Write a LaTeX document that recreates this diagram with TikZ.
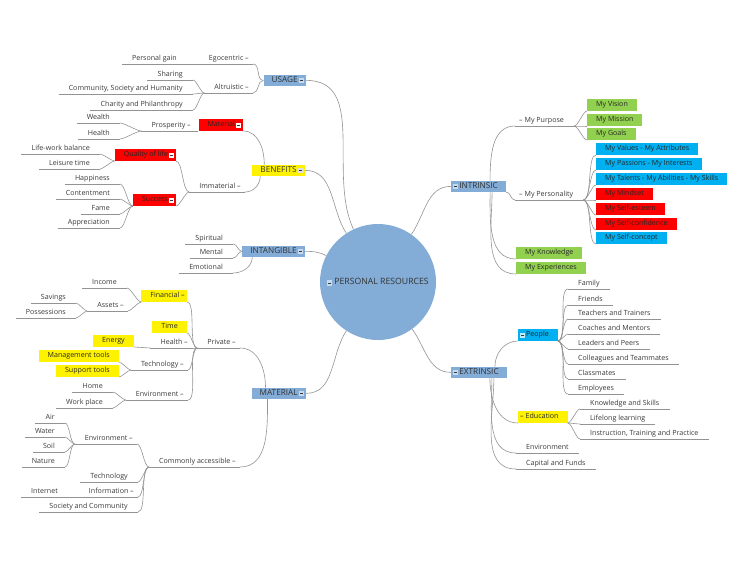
\documentclass[tikz,border=0pt]{standalone}
\usepackage{fontspec}
\setmainfont{Open Sans}
\usetikzlibrary{positioning}

\definecolor{topicblue}{HTML}{83ACD7}
\definecolor{skyblue}{HTML}{00B0F0}
\definecolor{leafgreen}{HTML}{92D050}
\definecolor{linegray}{HTML}{939393}
\definecolor{textgray}{HTML}{383838}

\newcommand\leaffont{\fontsize{7.1}{8.4}\selectfont}
\newcommand\topicfont{\fontsize{8.2}{9.8}\selectfont}
\newcommand\hubfont{\fontsize{8.7}{10}\selectfont}
\newcommand\foldmark[1][white!55!topicblue]{{\setlength\fboxsep{0.8pt}\colorbox{#1}{\rule{0pt}{3.5pt}\textcolor{textgray}{\rule[1.5pt]{3.2pt}{0.6pt}}}}}

\tikzset{
  link/.style={draw=linegray, line width=0.6pt},
  lfan/.style={out=180, in=0, looseness=0.5},
  rfan/.style={out=0, in=180, looseness=0.5},
  leaf/.style={font=\leaffont, text=textgray, inner xsep=10pt, inner ysep=2pt,
    text height=5.2pt, text depth=1.5pt,
    append after command={(\tikzlastnode.south west) edge[link] (\tikzlastnode.south east)}},
  lleaf/.style={leaf, anchor=south east},
  rleaf/.style={leaf, anchor=south west},
  lbranch/.style={leaf, anchor=south east, inner xsep=4pt, execute at begin node={\hspace*{6pt}}},
  rbranch/.style={leaf, anchor=south west, inner xsep=4pt, execute at end node={\hspace*{6pt}}},
  box/.style={font=\leaffont, text=black!85, inner ysep=2.5pt, text height=5.2pt, text depth=1.5pt},
  lbox/.style={box, anchor=south east, inner xsep=2pt, execute at begin node={\hspace*{7pt}}},
  rbox/.style={box, anchor=south west, inner xsep=2pt, execute at end node={\hspace*{7pt}}},
  lcard/.style={box, anchor=south east, inner xsep=9pt},
  rcard/.style={box, anchor=south west, inner xsep=9pt},
  topic/.style={font=\topicfont, text=black!80, fill=topicblue, inner xsep=2pt, inner ysep=1.6pt,
    text height=6pt, text depth=1.7pt},
  ltopic/.style={topic, anchor=south east, execute at begin node={\hspace*{6pt}}},
  rtopic/.style={topic, anchor=south west, execute at end node={\hspace*{6pt}}},
  hub/.style={circle, fill=topicblue, minimum size=116pt, inner sep=0pt, font=\hubfont, text=black!80}
}

\begin{document}
\begin{tikzpicture}[x=1pt,y=1pt]
\useasboundingbox (0,0) rectangle (750,-563);

% The hub and the main topics
\node[hub] (hub) at (378,-282) {\foldmark\ PERSONAL RESOURCES};
\node[ltopic] (usage) at (306,-86) {USAGE\,\foldmark};
\node[ltopic,fill=yellow] (benefits) at (305,-176) {BENEFITS\,\foldmark[white!75!gray]};
\node[ltopic] (intang) at (305,-257) {INTANGIBLE\,\foldmark};
\node[ltopic] (matr) at (306,-399) {MATERIAL\,\foldmark};
\node[rtopic] (intrin) at (451,-192) {\foldmark\,INTRINSIC};
\node[rtopic] (extrin) at (451,-378) {\foldmark\,EXTRINSIC};

\draw[link] (usage.east) to[out=0,in=115] (hub.115);
\draw[link] (benefits.east) to[out=0,in=123] (hub.123);
\draw[link] (intang.east) to[out=0,in=153] (hub.153);
\draw[link] (matr.east) to[out=0,in=237] (hub.237);
\draw[link] (intrin.west) to[out=180,in=55] (hub.55);
\draw[link] (extrin.west) to[out=180,in=306] (hub.306);

% Usage
\node[lbranch] (ego) at (253,-64) {Egocentric~–};
\node[lleaf] (gain) at (187,-64) {Personal gain};
\node[lbranch] (altru) at (253,-93) {Altruistic~–};
\node[lleaf] (share) at (193,-80) {Sharing};
\node[lleaf] (commu) at (193,-94) {Community, Society and Humanity};
\node[lleaf] (charity) at (193,-110) {Charity and Philanthropy};

\draw[link] (usage.west) to[out=180,in=0] (ego.south east);
\draw[link] (usage.west) to[out=180,in=0] (altru.south east);
\draw[link] (ego.south west) -- (gain.south east);
\foreach \kid in {share,commu,charity}
  \draw[link] (altru.south west) to[lfan] (\kid.south east);

% Benefits
\node[lbox,fill=red] (matl) at (243,-131) {Material\,\foldmark[white]};
\node[lbranch] (prosp) at (195,-131) {Prosperity~–};
\node[lleaf] (wealth) at (120,-123) {Wealth};
\node[lleaf] (health) at (120,-139) {Health};
\node[lbranch] (immat) at (245,-192) {Immaterial~–};
\node[lbox,fill=red] (qol) at (176,-161) {Quality of life\,\foldmark[white]};
\node[lleaf] (balance) at (100,-154) {Life-work balance};
\node[lleaf] (leisure) at (100,-169) {Leisure time};
\node[lbox,fill=red] (success) at (176,-206) {Success\,\foldmark[white]};
\node[lleaf] (happy) at (120,-184) {Happiness};
\node[lleaf] (content) at (120,-199) {Contentment};
\node[lleaf] (fame) at (120,-214) {Fame};
\node[lleaf] (apprec) at (120,-228) {Appreciation};

\draw[link] ([xshift=12pt]benefits.north west) to[out=90,in=0] (matl.south east);
\draw[link] ([xshift=8pt]benefits.south west) to[out=-90,in=0] (immat.south east);
\draw[link] (matl.south west) -- (prosp.south east);
\foreach \kid in {wealth,health}
  \draw[link] (prosp.south west) to[lfan] (\kid.south east);
\foreach \kid in {qol,success}
  \draw[link] (immat.south west) to[lfan] (\kid.south east);
\foreach \kid in {balance,leisure}
  \draw[link] (qol.south west) to[lfan] (\kid.south east);
\foreach \kid in {happy,content,fame,apprec}
  \draw[link] (success.south west) to[lfan] (\kid.south east);

% Intangible
\node[lleaf] (spirit) at (233,-244) {Spiritual};
\node[lleaf] (mental) at (233,-258) {Mental};
\node[lleaf] (emot) at (233,-273) {Emotional};

\draw[link] (intang.west) to[out=180,in=0] (spirit.south east);
\draw[link] (intang.west) to[out=180,in=0] (mental.south east);
\draw[link] ([xshift=10pt]intang.south west) to[out=-90,in=0] (emot.south east);

% Material, private side
\node[lbranch] (private) at (240,-348) {Private~–};
\node[lbox,fill=yellow] (financ) at (187,-302) {Financial~–};
\node[lleaf] (income) at (127,-288) {Income};
\node[lbranch] (assets) at (128,-311) {Assets~–};
\node[lleaf] (savings) at (76,-303) {Savings};
\node[lleaf] (possess) at (76,-318) {Possessions};
\node[lcard,fill=yellow] (time) at (187,-333) {Time};
\node[lbranch] (healthm) at (192,-348) {Health~–};
\node[lcard,fill=yellow] (energy) at (134,-347) {Energy};
\node[lbranch] (techp) at (188,-370) {Technology~–};
\node[lcard,fill=yellow] (mgmt) at (119,-362) {Management tools};
\node[lcard,fill=yellow] (support) at (119,-377) {Support tools};
\node[lbranch] (envp) at (188,-400) {Environment~–};
\node[lleaf] (home) at (113,-392) {Home};
\node[lleaf] (work) at (113,-408) {Work place};

\draw[link] ([xshift=14pt]matr.north west) to[out=90,in=0] (private.south east);
\foreach \kid in {financ,time,healthm,techp,envp}
  \draw[link] (private.south west) to[lfan] (\kid.south east);
\foreach \kid in {income,assets}
  \draw[link] (financ.south west) to[lfan] (\kid.south east);
\foreach \kid in {savings,possess}
  \draw[link] (assets.south west) to[lfan] (\kid.south east);
\draw[link] (healthm.south west) -- (energy.south east);
\foreach \kid in {mgmt,support}
  \draw[link] (techp.south west) to[lfan] (\kid.south east);
\foreach \kid in {home,work}
  \draw[link] (envp.south west) to[lfan] (\kid.south east);

% Material, common side
\node[lbranch] (common) at (240,-467) {Commonly accessible~–};
\node[lbranch] (envc) at (137,-444) {Environment~–};
\node[lleaf] (air) at (65,-423) {Air};
\node[lleaf] (water) at (65,-437) {Water};
\node[lleaf] (soil) at (65,-452) {Soil};
\node[lleaf] (nature) at (65,-467) {Nature};
\node[lleaf] (techc) at (138,-482) {Technology};
\node[lbranch] (info) at (138,-497) {Information~–};
\node[lleaf] (internet) at (68,-497) {Internet};
\node[lleaf] (society) at (138,-512) {Society and Community};

\draw[link] ([xshift=16pt]matr.south west) to[out=-90,in=0] (common.south east);
\foreach \kid in {envc,techc,info,society}
  \draw[link] (common.south west) to[lfan] (\kid.south east);
\foreach \kid in {air,water,soil,nature}
  \draw[link] (envc.south west) to[lfan] (\kid.south east);
\draw[link] (info.south west) -- (internet.south east);

% Intrinsic
\node[rbranch] (purpose) at (515,-126) {–~My Purpose};
\node[rcard,fill=leafgreen] (vision) at (587,-111) {My Vision};
\node[rcard,fill=leafgreen] (mission) at (587,-126) {My Mission};
\node[rcard,fill=leafgreen] (goals) at (587,-140) {My Goals};
\node[rbranch] (person) at (515,-200) {–~My Personality};
\node[rcard,fill=skyblue] (values) at (596,-155) {My Values - My Attributes};
\node[rcard,fill=skyblue] (passion) at (596,-170) {My Passions - My Interests};
\node[rcard,fill=skyblue] (talent) at (596,-185) {My Talents - My Abilities - My Skills};
\node[rcard,fill=red] (mindset) at (596,-200) {My Mindset};
\node[rcard,fill=red] (esteem) at (596,-215) {My Self-esteem};
\node[rcard,fill=red] (confid) at (596,-230) {My Self-confidence};
\node[rcard,fill=skyblue] (concept) at (596,-244) {My Self-concept};
\node[rcard,fill=leafgreen] (know) at (516,-259) {My Knowledge};
\node[rcard,fill=leafgreen] (exper) at (516,-274) {My Experiences};

\draw[link] ([xshift=-16pt]intrin.north east) to[out=90,in=180] (purpose.south west);
\draw[link] (intrin.south east) to[out=0,in=180] (person.south west);
\draw[link] ([xshift=-16pt]intrin.south east) to[out=-90,in=180] (know.south west);
\draw[link] ([xshift=-14pt]intrin.south east) to[out=-90,in=180] (exper.south west);
\foreach \kid in {vision,mission,goals}
  \draw[link] (purpose.south east) to[rfan] (\kid.south west);
\foreach \kid in {values,passion,talent,mindset,esteem,confid,concept}
  \draw[link] (person.south east) to[rfan] (\kid.south west);

% Extrinsic
\node[rbox,fill=skyblue] (people) at (518,-341) {\foldmark[white!75!skyblue]\,People};
\node[rleaf] (family) at (568,-289) {Family};
\node[rleaf] (friends) at (568,-305) {Friends};
\node[rleaf] (teach) at (568,-319) {Teachers and Trainers};
\node[rleaf] (coach) at (568,-334) {Coaches and Mentors};
\node[rleaf] (leader) at (568,-349) {Leaders and Peers};
\node[rleaf] (colleag) at (568,-364) {Colleagues and Teammates};
\node[rleaf] (classm) at (568,-379) {Classmates};
\node[rleaf] (employ) at (568,-394) {Employees};
\node[rbox,fill=yellow] (educ) at (518,-423) {–~Education};
\node[rleaf] (skills) at (580,-409) {Knowledge and Skills};
\node[rleaf] (lifelong) at (580,-424) {Lifelong learning};
\node[rleaf] (instr) at (580,-439) {Instruction, Training and Practice};
\node[rleaf] (enve) at (516,-453) {Environment};
\node[rleaf] (capital) at (516,-469) {Capital and Funds};

\draw[link] ([xshift=-12pt]extrin.north east) to[out=90,in=180] (people.south west);
\foreach \kid/\dx in {educ/-17,enve/-15,capital/-13}
  \draw[link] ([xshift=\dx pt]extrin.south east) to[out=-90,in=180] (\kid.south west);
\foreach \kid in {family,friends,teach,coach,leader,colleag,classm,employ}
  \draw[link] (people.south east) to[rfan] (\kid.south west);
\foreach \kid in {skills,lifelong,instr}
  \draw[link] (educ.south east) to[rfan] (\kid.south west);

\end{tikzpicture}
\end{document}
